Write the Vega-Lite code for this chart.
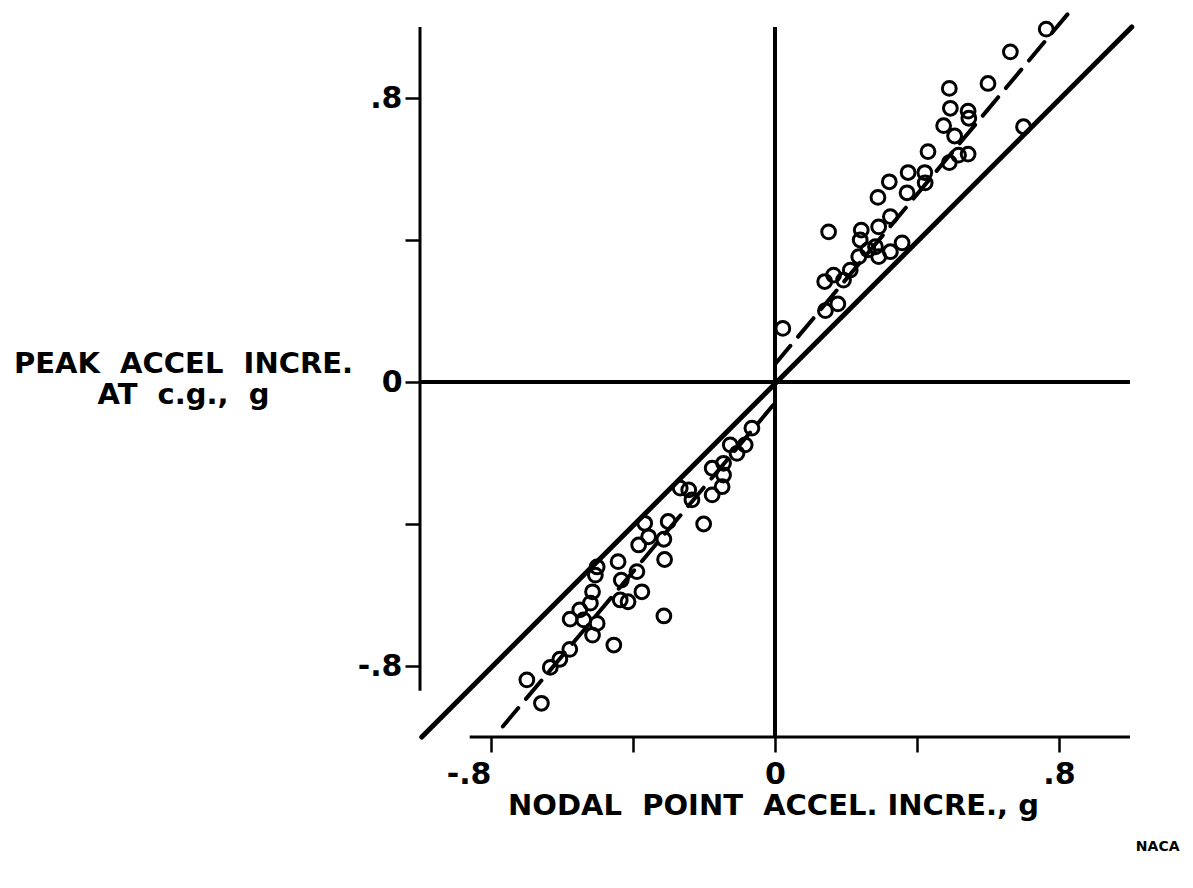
{
  "$schema": "https://vega.github.io/schema/vega-lite/v6.json",
  "width": 710,
  "height": 710,
  "autosize": "none",
  "padding": {"left": 420, "top": 27, "right": 63, "bottom": 151},
  "background": "white",
  "config": {"view": {"stroke": null}},
  "datasets": {
    "points": [
      {"x": 0.022, "y": 0.151}, {"x": 0.142, "y": 0.201}, {"x": 0.177, "y": 0.220},
      {"x": 0.140, "y": 0.283}, {"x": 0.165, "y": 0.301}, {"x": 0.193, "y": 0.287},
      {"x": 0.212, "y": 0.315}, {"x": 0.151, "y": 0.423}, {"x": 0.236, "y": 0.353},
      {"x": 0.240, "y": 0.400}, {"x": 0.243, "y": 0.428}, {"x": 0.283, "y": 0.381},
      {"x": 0.292, "y": 0.353}, {"x": 0.325, "y": 0.367}, {"x": 0.358, "y": 0.392},
      {"x": 0.292, "y": 0.437}, {"x": 0.325, "y": 0.466}, {"x": 0.290, "y": 0.520},
      {"x": 0.322, "y": 0.564}, {"x": 0.372, "y": 0.533}, {"x": 0.375, "y": 0.590},
      {"x": 0.422, "y": 0.590}, {"x": 0.423, "y": 0.561}, {"x": 0.431, "y": 0.649},
      {"x": 0.491, "y": 0.618}, {"x": 0.517, "y": 0.639}, {"x": 0.544, "y": 0.642},
      {"x": 0.506, "y": 0.693}, {"x": 0.475, "y": 0.722}, {"x": 0.494, "y": 0.771},
      {"x": 0.544, "y": 0.763}, {"x": 0.546, "y": 0.743}, {"x": 0.491, "y": 0.827},
      {"x": 0.600, "y": 0.841}, {"x": 0.663, "y": 0.930}, {"x": 0.764, "y": 0.994},
      {"x": 0.700, "y": 0.719}, {"x": 0.262, "y": 0.372},
      {"x": -0.065, "y": -0.130}, {"x": -0.126, "y": -0.177}, {"x": -0.084, "y": -0.177},
      {"x": -0.107, "y": -0.201}, {"x": -0.145, "y": -0.229}, {"x": -0.177, "y": -0.243},
      {"x": -0.145, "y": -0.262}, {"x": -0.149, "y": -0.295}, {"x": -0.177, "y": -0.318},
      {"x": -0.243, "y": -0.304}, {"x": -0.267, "y": -0.299}, {"x": -0.234, "y": -0.332},
      {"x": -0.201, "y": -0.400}, {"x": -0.301, "y": -0.393}, {"x": -0.367, "y": -0.398},
      {"x": -0.356, "y": -0.436}, {"x": -0.313, "y": -0.443}, {"x": -0.384, "y": -0.459},
      {"x": -0.311, "y": -0.500}, {"x": -0.442, "y": -0.506}, {"x": -0.389, "y": -0.534},
      {"x": -0.433, "y": -0.558}, {"x": -0.375, "y": -0.591}, {"x": -0.436, "y": -0.614},
      {"x": -0.414, "y": -0.619}, {"x": -0.313, "y": -0.659}, {"x": -0.506, "y": -0.544},
      {"x": -0.501, "y": -0.521}, {"x": -0.514, "y": -0.591}, {"x": -0.520, "y": -0.623},
      {"x": -0.550, "y": -0.642}, {"x": -0.577, "y": -0.668}, {"x": -0.539, "y": -0.670},
      {"x": -0.501, "y": -0.680}, {"x": -0.514, "y": -0.713}, {"x": -0.454, "y": -0.741},
      {"x": -0.578, "y": -0.753}, {"x": -0.606, "y": -0.781}, {"x": -0.633, "y": -0.804},
      {"x": -0.699, "y": -0.839}, {"x": -0.658, "y": -0.905}
    ],
    "frame": [
      {"x": -1, "y": -0.87, "x2": -1, "y2": 1},
      {"x": -0.86, "y": -1, "x2": 1, "y2": -1}
    ],
    "zeros": [
      {"x": 0, "y": -1, "x2": 0, "y2": 1},
      {"x": -1, "y": 0, "x2": 1, "y2": 0}
    ],
    "identity": [
      {"x": -0.995, "y": -1, "x2": 1.005, "y2": 1}
    ],
    "fit": [
      {"x": 0.0, "y": 0.05, "x2": 0.83, "y2": 1.043},
      {"x": -0.005, "y": -0.065, "x2": -0.78, "y2": -0.986}
    ],
    "logo": [
      {"x": 1.078, "y": -1.31, "label": "NACA"}
    ]
  },
  "encoding": {
    "x": {
      "field": "x", "type": "quantitative",
      "scale": {"domain": [-1, 1], "nice": false, "zero": false},
      "axis": {
        "values": [-0.8, -0.4, 0, 0.4, 0.8],
        "labelExpr": "datum.value == 0 ? '0' : datum.value == 0.8 ? '.8' : datum.value == -0.8 ? '-.8' : ''",
        "labelAlign": {"condition": {"test": "datum.value < -0.5", "value": "right"}, "value": "center"},
        "domain": false, "grid": false,
        "tickSize": 15, "tickWidth": 2.5, "tickColor": "black",
        "labelFont": "DejaVu Sans", "labelFontWeight": "bold", "labelFontSize": 30, "labelColor": "black",
        "labelPadding": 7, "labelFlush": false, "labelOverlap": false, "labelBound": false,
        "title": "NODAL\u00a0\u00a0POINT\u00a0\u00a0ACCEL.\u00a0INCRE.,\u00a0g",
        "titleFont": "DejaVu Sans", "titleFontWeight": "bold", "titleFontSize": 29, "titleColor": "black",
        "titleX": 353, "titleY": 77, "titleAlign": "center", "titleBaseline": "alphabetic"
      }
    },
    "y": {
      "field": "y", "type": "quantitative",
      "scale": {"domain": [-1, 1], "nice": false, "zero": false},
      "axis": {
        "values": [-0.8, -0.4, 0, 0.4, 0.8],
        "labelExpr": "datum.value == 0 ? '0' : datum.value == 0.8 ? '.8' : datum.value == -0.8 ? '-.8' : ''",
        "domain": false, "grid": false,
        "tickSize": 15, "tickWidth": 2.5, "tickColor": "black",
        "labelFont": "DejaVu Sans", "labelFontWeight": "bold", "labelFontSize": 30, "labelColor": "black",
        "labelPadding": 3, "labelFlush": false, "labelOverlap": false, "labelBound": false, "labelBaseline": "middle",
        "title": ["PEAK\u00a0\u00a0ACCEL\u00a0\u00a0INCRE.", "AT\u00a0\u00a0c.g.,\u00a0\u00a0g"],
        "titleFont": "DejaVu Sans", "titleFontWeight": "bold", "titleFontSize": 29, "titleColor": "black",
        "titleAngle": 0, "titleX": -237, "titleY": 345, "titleAlign": "center", "titleBaseline": "alphabetic",
        "titleLineHeight": 31
      }
    }
  },
  "layer": [
    {
      "data": {"name": "frame"},
      "mark": {"type": "rule", "color": "black", "strokeWidth": 3},
      "encoding": {"x2": {"field": "x2"}, "y2": {"field": "y2"}}
    },
    {
      "data": {"name": "zeros"},
      "mark": {"type": "rule", "color": "black", "strokeWidth": 4},
      "encoding": {"x2": {"field": "x2"}, "y2": {"field": "y2"}}
    },
    {
      "data": {"name": "identity"},
      "mark": {"type": "rule", "color": "black", "strokeWidth": 5, "strokeCap": "round"},
      "encoding": {"x2": {"field": "x2"}, "y2": {"field": "y2"}}
    },
    {
      "data": {"name": "fit"},
      "mark": {"type": "rule", "color": "black", "strokeWidth": 4, "strokeDash": [24, 12], "strokeCap": "round"},
      "encoding": {"x2": {"field": "x2"}, "y2": {"field": "y2"}}
    },
    {
      "data": {"name": "points"},
      "mark": {"type": "point", "shape": "circle", "filled": false, "size": 190, "strokeWidth": 3, "color": "black", "opacity": 1},
      "encoding": {}
    },
    {
      "data": {"name": "logo"},
      "mark": {"type": "text", "font": "DejaVu Sans", "fontWeight": "bold", "fontSize": 14, "color": "black"},
      "encoding": {"text": {"field": "label"}}
    }
  ]
}
